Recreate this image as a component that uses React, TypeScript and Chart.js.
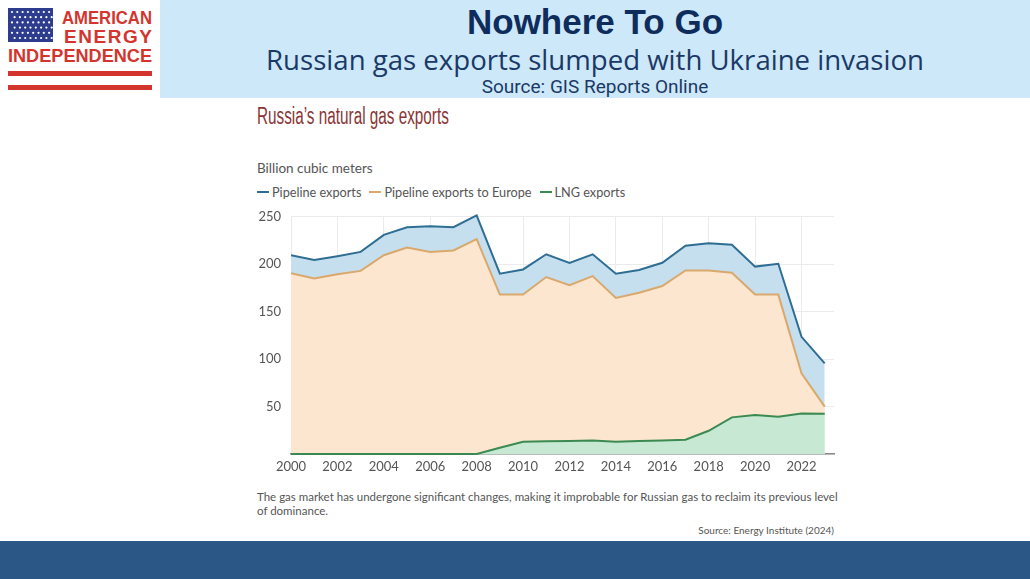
import React, { useEffect, useRef } from "react";
import { Chart, registerables } from "chart.js";

Chart.register(...registerables);

const years = [2000, 2001, 2002, 2003, 2004, 2005, 2006, 2007, 2008, 2009, 2010, 2011, 2012, 2013, 2014, 2015, 2016, 2017, 2018, 2019, 2020, 2021, 2022, 2023];
const pipelineExports = [209.5, 204.5, 208.5, 213, 231, 239, 240, 239, 251.5, 190, 194.5, 210.5, 201.5, 210.5, 190, 194, 201.5, 219.5, 222, 220.5, 197.5, 200.5, 123.5, 95.5];
const pipelineEurope = [190.5, 185, 189.5, 193, 209.5, 217.5, 213, 214.5, 226.5, 168, 168, 186.5, 178, 187.5, 164.5, 170, 177, 193.5, 193.5, 191, 168, 168, 85, 50];
const lngExports = [0, 0, 0, 0, 0, 0, 0, 0, 0, 6.5, 13, 13.5, 13.7, 14.2, 13, 13.8, 14.2, 15, 24.5, 38.6, 41, 39.3, 42.8, 42.5];
const seriesNames = ["Pipeline exports", "Pipeline exports to Europe", "LNG exports"];
const yTicks = [0, 50, 100, 150, 200, 250];

const lineColors = ["#2f6e93", "#d9a86c", "#3b8a52"];
const fillColors = ["#c6dfef", "#fde6cf", "#c7e9d3"];

const toPoints = (vals: number[]) => vals.map((v, i) => ({ x: years[i], y: v }));

function Logo() {
  const dots: JSX.Element[] = [];
  for (let r = 0; r < 6; r++) {
    for (let c = 0; c < 8; c++) {
      dots.push(<circle key={`${r}-${c}`} cx={4 + c * 5.3 + (r % 2 ? 2.6 : 0)} cy={4 + r * 5.2} r={1.1} fill="#ffffff" />);
    }
  }
  const red = "#d3352e";
  const ff = "'Liberation Sans', Arial, sans-serif";
  return (
    <div style={{ position: "absolute", left: 0, top: 0, width: 160, height: 98, background: "#ffffff" }}>
      <svg style={{ position: "absolute", left: 0, top: 0 }} width={160} height={98}>
        <rect x={8} y={8} width={45} height={34} fill="#2e3c8e" />
        <g transform="translate(8,8)">{dots}</g>
        <text x={62} y={24} textLength={90} lengthAdjust="spacingAndGlyphs" fontFamily={ff} fontWeight={700} fontSize={19} fill={red}>AMERICAN</text>
        <text x={64} y={43} textLength={88} lengthAdjust="spacing" fontFamily={ff} fontWeight={700} fontSize={19} fill={red}>ENERGY</text>
        <text x={8} y={62} textLength={144} lengthAdjust="spacingAndGlyphs" fontFamily={ff} fontWeight={700} fontSize={19} fill={red}>INDEPENDENCE</text>
        <rect x={8} y={71} width={144} height={5} fill={red} />
        <rect x={8} y={85} width={144} height={5} fill={red} />
      </svg>
    </div>
  );
}

export default function App() {
  const ref = useRef<HTMLCanvasElement>(null);

  useEffect(() => {
    const font = { family: "Lato, 'Open Sans', sans-serif", size: 13 };
    const chart = new Chart(ref.current as HTMLCanvasElement, {
      type: "line",
      data: {
        datasets: [pipelineExports, pipelineEurope, lngExports].map((vals, i) => ({
          label: seriesNames[i],
          data: toPoints(vals),
          borderColor: lineColors[i],
          backgroundColor: fillColors[i],
          borderWidth: 2,
          fill: "origin",
          pointRadius: 0,
          tension: 0,
          order: 3 - i,
          clip: { left: 0, right: 0, top: 6, bottom: 2 },
        })),
      },
      options: {
        animation: false,
        responsive: false,
        maintainAspectRatio: false,
        layout: { padding: { top: 6, right: 16, left: 0, bottom: 0 } },
        plugins: { legend: { display: false }, tooltip: { enabled: false } },
        scales: {
          x: {
            type: "linear",
            min: 2000,
            max: 2023.4,
            ticks: {
              stepSize: 2,
              includeBounds: false,
              callback: (v: any) => String(v),
              font,
              color: "#555555",
              padding: 5,
              maxRotation: 0,
            },
            afterBuildTicks: (s: any) => {
              s.ticks = s.ticks.filter((t: any) => t.value % 2 === 0);
            },
            grid: { color: "#ebebeb", drawTicks: false },
            border: { color: "#8a8a8a", width: 1.5 },
            afterFit: (s: any) => {
              s.height = 21;
            },
          },
          y: {
            min: 0,
            max: 250,
            afterBuildTicks: (s: any) => {
              s.ticks = yTicks.map((v) => ({ value: v }));
            },
            ticks: {
              callback: (v: any) => (v === 0 ? "" : String(v)),
              font,
              color: "#555555",
              padding: 10,
            },
            grid: { color: "#ebebeb", drawTicks: false },
            border: { display: false },
            afterFit: (s: any) => {
              s.width = 41;
            },
          },
        },
      },
    });
    return () => chart.destroy();
  }, []);

  const gray = "#555555";
  const lato = "Lato, 'Open Sans', sans-serif";

  return (
    <div style={{ position: "fixed", left: 0, top: 0, width: 1030, height: 579, background: "#ffffff", overflow: "hidden" }}>
      <div style={{ position: "absolute", left: 160, top: 0, width: 870, height: 98, background: "#cde8f9" }} />
      <Logo />
      <div style={{ position: "absolute", left: 160, width: 870, top: 2, textAlign: "center", fontFamily: "'Liberation Sans', Arial, sans-serif", fontWeight: 700, fontSize: 35, lineHeight: "40px", color: "#0e2c5c" }}>Nowhere To Go</div>
      <div style={{ position: "absolute", left: 160, width: 870, top: 42, textAlign: "center", fontFamily: "'Open Sans', sans-serif", fontSize: 27.6, lineHeight: "34px", color: "#1b3966" }}>Russian gas exports slumped with Ukraine invasion</div>
      <div style={{ position: "absolute", left: 160, width: 870, top: 76, textAlign: "center", fontFamily: "Roboto, sans-serif", fontSize: 19, lineHeight: "22px", color: "#1b3966" }}>Source: GIS Reports Online</div>

      <div style={{ position: "absolute", left: 257, top: 102, whiteSpace: "nowrap", transform: "scaleX(0.665)", transformOrigin: "left center", fontFamily: "'Liberation Sans', sans-serif", fontSize: 23, lineHeight: "28px", color: "#8a3535" }}>Russia’s natural gas exports</div>
      <div style={{ position: "absolute", left: 257, top: 159, fontFamily: lato, fontSize: 13.5, lineHeight: "18px", color: gray }}>Billion cubic meters</div>
      <div style={{ position: "absolute", left: 257, top: 183, display: "flex", alignItems: "center", fontFamily: lato, fontSize: 12.7, lineHeight: "18px", color: gray }}>
        {seriesNames.map((n, i) => (
          <div key={n} style={{ display: "flex", alignItems: "center", marginRight: 8 }}>
            <span style={{ display: "inline-block", width: 12, height: 2, background: lineColors[i], marginRight: 3 }} />
            <span>{n}</span>
          </div>
        ))}
      </div>

      <canvas ref={ref} width={600} height={276} style={{ position: "absolute", left: 250, top: 199, width: 600, height: 276 }} />

      <div style={{ position: "absolute", left: 257, top: 490, width: 585, fontFamily: lato, fontSize: 11.5, lineHeight: "14px", color: gray }}>
        The gas market has undergone significant changes, making it improbable for Russian gas to reclaim its previous level of dominance.
      </div>
      <div style={{ position: "absolute", left: 600, width: 234, top: 523, textAlign: "right", fontFamily: lato, fontSize: 10, lineHeight: "14px", color: gray }}>Source: Energy Institute (2024)</div>

      <div style={{ position: "absolute", left: 0, top: 541, width: 1030, height: 38, background: "#2a5785" }} />
    </div>
  );
}
